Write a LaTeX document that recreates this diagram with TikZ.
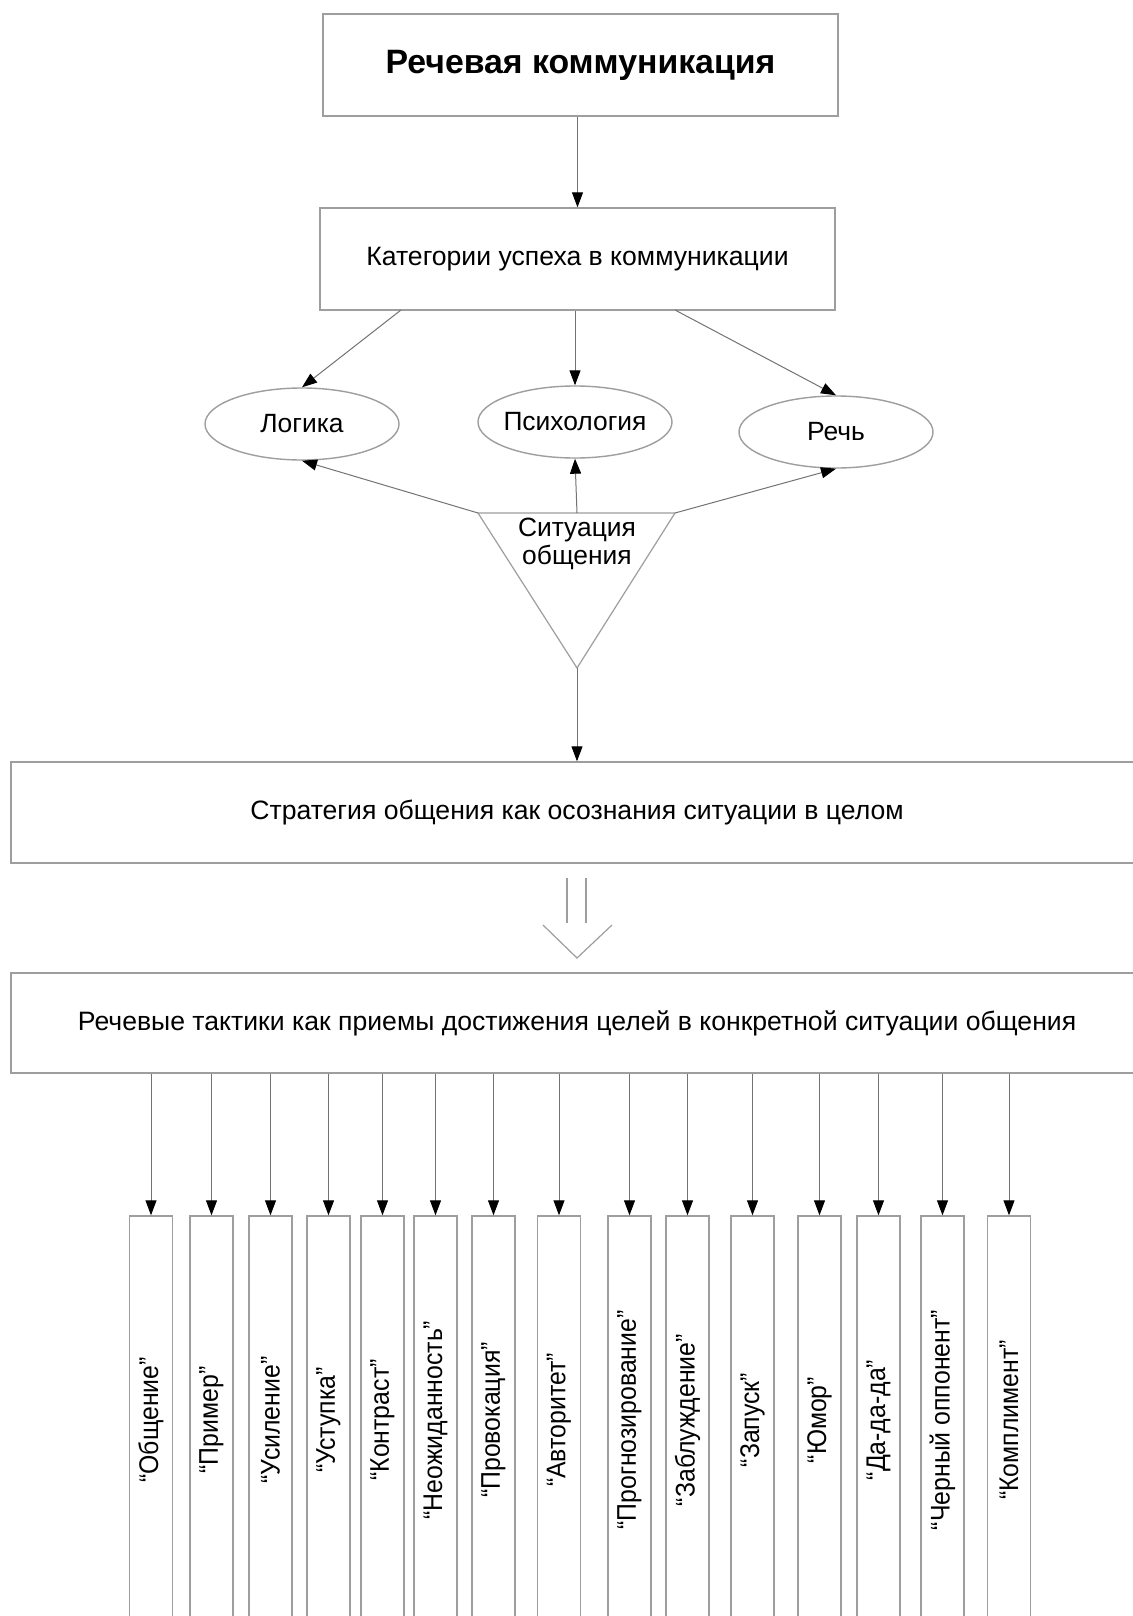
\documentclass[tikz,border=0pt]{standalone}
\usepackage{fontspec}
\setmainfont{Liberation Sans}
\newfontfamily\narrowf[FakeStretch=0.92]{Liberation Sans}
\usetikzlibrary{arrows.meta,shapes.geometric}
\begin{document}
\begin{tikzpicture}[x=0.5pt,y=-0.5pt,
  box/.style={draw=black!38,line width=0.7pt,rectangle,inner sep=0pt},
  edgeline/.style={draw=black!38,line width=0.6pt},
  arr/.style={draw=black!55,line width=0.5pt,-{Triangle[length=7.5pt,width=5.5pt,color=black]}},
  ell/.style={draw=black!38,line width=0.7pt,ellipse,minimum width=97pt,minimum height=36pt,inner sep=0pt},
  elltext/.style={font=\fontsize{13.2pt}{14pt}\selectfont},
  midtext/.style={font=\fontsize{13.3pt}{15pt}\selectfont},
  tac/.style={box,minimum width=21.5pt,minimum height=204pt,font=\narrowf\fontsize{13.5pt}{16pt}\selectfont}]
\useasboundingbox[fill=white] (0,0) rectangle (1133,1616);

% top boxes
\node[box,minimum width=257.5pt,minimum height=51pt,font=\fontsize{16.9pt}{19pt}\selectfont\bfseries] (top) at (580.5,65) {Речевая коммуникация};
\node[box,minimum width=257.5pt,minimum height=51pt,midtext] (cat) at (577.5,259) {Категории успеха в коммуникации};
\draw[arr] (cat.north |- top.south) -- (cat.north);

% ellipses
\node[ell,label={[elltext]center:Логика}] (log) at (302,424) {};
\node[ell,label={[elltext]center:Психология}] (ps) at (575,422) {};
\node[ell,label={[elltext]center:Речь}] (rech) at (836,432) {};

\coordinate (c1) at (401,310);
\coordinate (c3) at (675,310);
\draw[arr] (c1) -- (log.north);
\draw[arr] (ps.north |- cat.south) -- (ps.north);
\draw[arr] (c3) -- (rech.north);

% triangle
\coordinate (tl) at (478,513);
\coordinate (tr) at (675,513);
\coordinate (tm) at (577,513);
\coordinate (tb) at (577,668);
\draw[edgeline] (tl) -- (tr) -- (tb) -- cycle;
\node[elltext,align=center] (sit) at (577,544) {Ситуация\\общения};
\draw[arr] (tl) -- (log.south);
\draw[arr] (tm) -- (ps.south);
\draw[arr] (tr) -- (rech.south);

% strategy
\node[box,minimum width=566pt,minimum height=50.5pt,midtext] (strat) at (577,812.5) {Стратегия общения как осознания ситуации в целом};
\draw[arr] (tb) -- (strat.north);

% hollow double arrow
\draw[edgeline] (567,878) -- (567,923);
\draw[edgeline] (586,878) -- (586,923);
\draw[edgeline] (543,925) -- (577,958) -- (612,925);

% tactics
\node[box,minimum width=566pt,minimum height=50pt,midtext] (tact) at (577,1023) {Речевые тактики как приемы достижения целей в конкретной ситуации общения};

\foreach \x/\lab [count=\i] in {151/Общение,211.5/Пример,270.5/Усиление,328.5/Уступка,382.5/Контраст,435.5/Неожиданность,493.5/Провокация,559/Авторитет,629.5/Прогнозирование,687.5/Заблуждение,752.5/Запуск,819.5/Юмор,878.5/Да-да-да,942.5/Черный оппонент,1009/Комплимент}{
  \node[tac] (t\i) at (\x,1420) {\rotatebox{90}{“\lab”}};
  \draw[arr] (t\i.north |- tact.south) -- (t\i.north);
}
\end{tikzpicture}
\end{document}
